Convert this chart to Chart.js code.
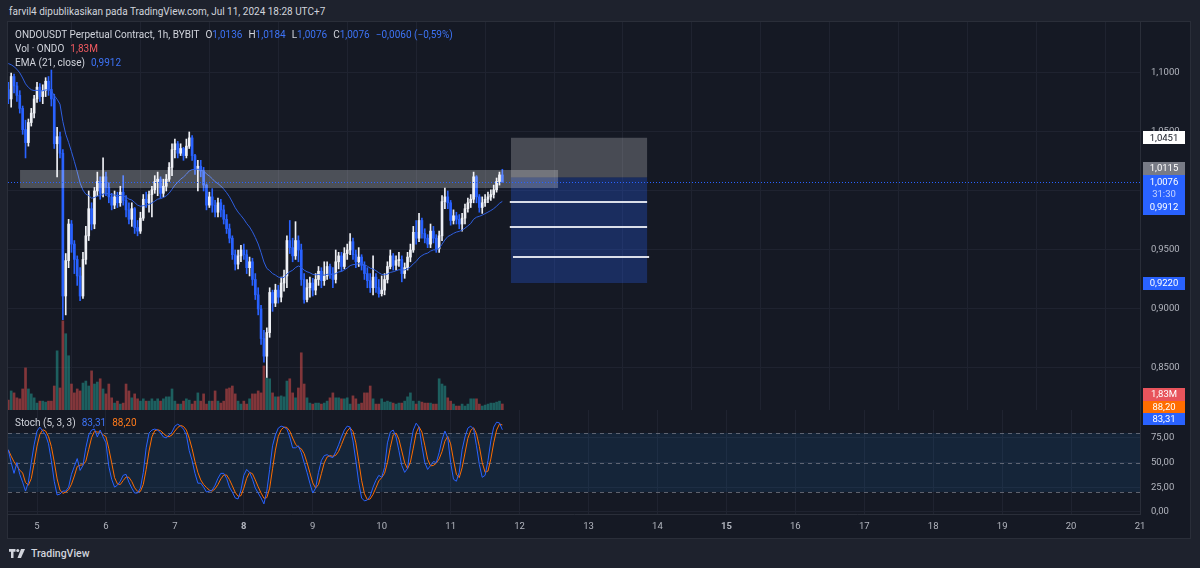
<!DOCTYPE html>
<html lang="id">
<head>
<meta charset="UTF-8">
<title>ONDOUSDT Perpetual Contract, 1h, BYBIT</title>
<script src="https://cdn.jsdelivr.net/npm/chart.js"></script>
<style>
  html, body { margin: 0; padding: 0; }
  body { width: 1200px; height: 568px; background: #1e222d; position: relative; overflow: hidden;
         font-family: Roboto, "Noto Sans", sans-serif; color: #d1d4dc; }
  .byline { position: absolute; left: 9px; top: 6px; font-size: 10px; line-height: 12px; }
  .frame { position: absolute; left: 7px; top: 21px; width: 1182px; height: 516px;
           border: 1px solid #2a2e39; background: #151924; }
  .box { position: absolute; left: 8px; width: 1182px; }
  #mainBox { top: 22px; height: 388px; }
  #stochBox { top: 395px; height: 143px; }
  .legend { position: absolute; left: 15px; font-size: 10px; line-height: 12px; white-space: nowrap; }
  .legend span { margin-right: 6px; }
  .blue { color: #3d73f5; }
  .red { color: #f05a60; }
  .orange { color: #ff7a1a; }
  .footer { position: absolute; left: 9px; top: 547px; display: flex; align-items: center; font-size: 10.5px; font-weight: 500; color: #d1d4dc; }
  .footer svg { margin-right: 3px; }
</style>
</head>
<body>
  <div class="byline">farvil4 dipublikasikan pada TradingView.com, Jul 11, 2024 18:28 UTC+7</div>
  <div class="frame"></div>
  <div class="box" id="mainBox"><canvas id="mainChart" width="1182" height="388"></canvas></div>
  <div class="box" id="stochBox"><canvas id="stochChart" width="1182" height="143"></canvas></div>

  <div class="legend" id="lg1" style="top:29px"></div>
  <div class="legend" id="lg2" style="top:43px"></div>
  <div class="legend" id="lg3" style="top:57px"></div>
  <div class="legend" id="lg4" style="top:417px"></div>

  <div class="footer">
    <svg width="19" height="9" viewBox="0 0 38 18"><path d="M0 0h13v5.5H9V18H4V5.5H0z" fill="#d1d4dc"/><circle cx="17.5" cy="3" r="3" fill="#d1d4dc"/><path d="M24 0h8l-8 18h-7z" fill="#d1d4dc"/></svg>
    TradingView
  </div>

<script>
// hourly bars, hour 0 = Jul 5 00:00 (UTC+7)
const firstHour = -10;
const firstOpen = 1.086;

const closes = [
  1.078, 1.097, 1.089, 1.081, 1.070, 1.052, 1.041, 1.058, 1.066, 1.078,
  1.088, 1.080, 1.085, 1.093, 1.086, 1.078, 1.040, 1.046, 1.032, 0.911,
  0.941, 0.972, 0.955, 0.942, 0.928, 0.911, 0.942, 0.962, 0.985, 0.972,
  1.000, 1.008, 0.998, 1.012, 1.003, 0.995, 0.988, 0.995, 0.990, 0.999,
  0.992, 0.984, 0.976, 0.985, 0.969, 0.966, 0.977, 0.993, 0.990, 0.997,
  1.001, 1.008, 1.010, 0.998, 1.004, 1.010, 1.020, 1.035, 1.040, 1.032,
  1.036, 1.030, 1.038, 1.045, 1.030, 1.018, 1.021, 1.017, 1.005, 0.988,
  0.995, 0.988, 0.982, 0.990, 0.984, 0.976, 0.968, 0.960, 0.946, 0.938,
  0.945, 0.950, 0.946, 0.935, 0.940, 0.925, 0.912, 0.900, 0.875, 0.860,
  0.880, 0.914, 0.905, 0.916, 0.910, 0.922, 0.928, 0.958, 0.952, 0.945,
  0.958, 0.950, 0.925, 0.908, 0.918, 0.922, 0.916, 0.925, 0.932, 0.924,
  0.928, 0.936, 0.930, 0.925, 0.940, 0.945, 0.936, 0.947, 0.950, 0.957,
  0.946, 0.940, 0.944, 0.937, 0.930, 0.924, 0.918, 0.927, 0.918, 0.913,
  0.916, 0.925, 0.936, 0.945, 0.937, 0.941, 0.942, 0.930, 0.935, 0.944,
  0.950, 0.965, 0.960, 0.975, 0.964, 0.960, 0.955, 0.966, 0.960, 0.951,
  0.962, 0.991, 0.995, 0.990, 0.975, 0.979, 0.976, 0.972, 0.977, 0.985,
  0.990, 0.993, 1.012, 0.995, 0.986, 0.990, 0.993, 0.995, 0.997, 1.001,
  1.008, 1.0136, 1.0076
];

const highs = [
  1.092, 1.100, 1.099, 1.092, 1.085, 1.072, 1.060, 1.061, 1.070, 1.081,
  1.092, 1.091, 1.090, 1.096, 1.097, 1.1025, 1.082, 1.054, 1.050, 1.035,
  0.947, 0.976, 0.975, 0.958, 0.945, 0.935, 0.948, 0.970, 1.000, 0.990,
  1.003, 1.016, 1.012, 1.028, 1.016, 1.007, 0.998, 1.000, 0.999, 1.004,
  1.013, 0.996, 0.990, 0.990, 0.986, 0.975, 0.982, 0.997, 0.999, 1.000,
  1.004, 1.013, 1.016, 1.012, 1.010, 1.014, 1.024, 1.040, 1.044, 1.042,
  1.040, 1.037, 1.044, 1.050, 1.047, 1.031, 1.026, 1.026, 1.020, 1.006,
  0.999, 1.002, 0.992, 0.994, 0.993, 0.988, 0.980, 0.972, 0.962, 0.950,
  0.950, 0.954, 0.955, 0.950, 0.944, 0.943, 0.930, 0.918, 0.903, 0.882,
  0.884, 0.918, 0.916, 0.921, 0.920, 0.927, 0.933, 0.962, 0.975, 0.960,
  0.974, 0.962, 0.955, 0.930, 0.925, 0.927, 0.926, 0.930, 0.936, 0.935,
  0.940, 0.940, 0.938, 0.935, 0.950, 0.948, 0.948, 0.952, 0.955, 0.964,
  0.960, 0.950, 0.952, 0.946, 0.940, 0.935, 0.930, 0.945, 0.930, 0.925,
  0.928, 0.930, 0.940, 0.950, 0.947, 0.945, 0.948, 0.945, 0.939, 0.948,
  0.955, 0.970, 0.975, 0.981, 0.977, 0.968, 0.963, 0.972, 0.970, 0.963,
  0.966, 0.996, 1.0025, 1.000, 0.992, 0.984, 0.982, 0.980, 0.981, 0.989,
  0.994, 0.997, 1.016, 1.013, 0.997, 0.995, 0.997, 0.999, 1.001, 1.005,
  1.011, 1.016, 1.0184
];

const lows = [
  1.074, 1.071, 1.083, 1.076, 1.066, 1.048, 1.028, 1.038, 1.055, 1.062,
  1.075, 1.076, 1.074, 1.080, 1.081, 1.072, 1.036, 1.012, 1.028, 0.891,
  0.895, 0.935, 0.948, 0.930, 0.920, 0.907, 0.909, 0.938, 0.958, 0.967,
  0.968, 0.996, 0.993, 0.995, 0.996, 0.990, 0.984, 0.985, 0.986, 0.987,
  0.988, 0.978, 0.972, 0.970, 0.964, 0.962, 0.964, 0.975, 0.986, 0.982,
  0.978, 0.998, 0.996, 0.994, 0.995, 1.000, 1.008, 1.013, 1.028, 1.028,
  1.030, 1.026, 1.028, 1.036, 1.026, 1.014, 1.000, 1.012, 1.000, 0.984,
  0.986, 0.982, 0.978, 0.978, 0.978, 0.972, 0.964, 0.956, 0.942, 0.933,
  0.934, 0.940, 0.942, 0.930, 0.928, 0.920, 0.908, 0.895, 0.870, 0.855,
  0.842, 0.876, 0.898, 0.902, 0.905, 0.906, 0.915, 0.918, 0.947, 0.940,
  0.942, 0.940, 0.920, 0.905, 0.906, 0.910, 0.911, 0.912, 0.920, 0.918,
  0.920, 0.925, 0.926, 0.918, 0.922, 0.934, 0.932, 0.934, 0.942, 0.946,
  0.942, 0.935, 0.936, 0.933, 0.925, 0.918, 0.914, 0.912, 0.914, 0.910,
  0.911, 0.912, 0.922, 0.934, 0.933, 0.933, 0.936, 0.923, 0.926, 0.933,
  0.940, 0.948, 0.955, 0.957, 0.960, 0.956, 0.952, 0.952, 0.956, 0.948,
  0.948, 0.958, 0.985, 0.985, 0.971, 0.972, 0.972, 0.968, 0.966, 0.972,
  0.982, 0.986, 0.990, 0.990, 0.982, 0.981, 0.987, 0.990, 0.992, 0.994,
  0.999, 1.005, 1.0076
];

// volume, millions of ONDO
const volumes = [
  3.0, 5.8, 5.2, 3.7, 3.4, 6.4, 12.8, 6.4, 4.9, 3.7,
  2.1, 2.7, 2.7, 2.4, 2.7, 2.7, 7.3, 18.0, 6.7, 27.1,
  23.2, 16.5, 7.9, 5.2, 6.4, 5.8, 8.2, 8.8, 7.3, 11.9,
  7.9, 8.5, 9.5, 6.4, 4.9, 7.9, 3.7, 2.1, 2.7, 1.8,
  2.1, 7.9, 5.8, 3.7, 4.9, 3.4, 2.7, 3.4, 2.7, 2.7,
  3.4, 2.7, 3.4, 2.7, 3.4, 4.0, 4.0, 6.4, 2.7, 1.8,
  1.8, 2.7, 3.4, 3.0, 1.8, 2.7, 5.2, 2.7, 4.9, 1.8,
  2.7, 2.7, 5.8, 2.7, 2.1, 2.7, 6.4, 6.7, 7.3, 4.9,
  2.7, 1.8, 2.7, 1.8, 3.4, 4.9, 4.9, 5.8, 5.2, 13.4,
  9.8, 9.5, 5.2, 4.0, 4.0, 4.3, 4.0, 8.8, 9.5, 5.2,
  3.7, 6.7, 17.4, 7.9, 3.7, 2.1, 1.8, 2.1, 2.1, 1.8,
  2.1, 2.7, 3.7, 5.2, 3.7, 3.7, 3.4, 3.4, 3.7, 1.8,
  4.3, 3.4, 1.8, 2.1, 5.2, 5.2, 7.3, 3.4, 1.8, 1.8,
  3.4, 2.4, 2.7, 2.4, 2.1, 1.8, 2.1, 2.1, 2.7, 4.0,
  5.2, 2.7, 1.8, 2.7, 2.4, 2.1, 2.1, 2.1, 1.8, 1.8,
  9.5, 7.9, 7.3, 3.7, 2.7, 1.8, 1.2, 1.2, 1.8, 1.2,
  1.8, 3.4, 3.4, 3.4, 1.8, 1.2, 1.5, 1.8, 2.1, 2.1,
  2.4, 2.7, 1.83
];

// Stoch (5, 3, 3) %K
const stochK = [
  63, 50, 39, 50, 38, 30, 21, 30, 50, 68,
  82, 86, 82, 78, 69, 52, 31, 17, 18, 21,
  21, 25, 38, 46, 54, 42, 47, 65, 78, 83,
  84, 76, 83, 76, 70, 46, 33, 25, 27, 31,
  37, 38, 30, 24, 19, 19, 24, 40, 65, 80,
  83, 84, 83, 80, 76, 75, 78, 81, 87, 89,
  87, 84, 78, 62, 52, 39, 29, 29, 25, 20,
  21, 22, 27, 34, 39, 39, 34, 25, 20, 14,
  13, 22, 37, 43, 40, 33, 24, 19, 14, 8,
  21, 43, 67, 78, 85, 87, 86, 84, 76, 65,
  65, 67, 60, 50, 40, 29, 19, 24, 40, 52,
  57, 58, 56, 55, 61, 68, 76, 83, 87, 86,
  72, 52, 30, 14, 11, 12, 16, 25, 32, 37,
  35, 45, 70, 81, 83, 76, 62, 47, 40, 44,
  67, 83, 90, 86, 67, 50, 43, 47, 51, 50,
  60, 73, 82, 75, 50, 33, 31, 40, 63, 76,
  85, 87, 84, 67, 48, 35, 37, 52, 72, 86,
  91, 90.3, 83.31
];

const emaSeed = 1.108;       // EMA(21) value at the first visible bar
const emaLength = 21;
const dayLabels = [5, 6, 7, 8, 9, 10, 11, 12, 13, 14, 15, 16, 17, 18, 19, 20, 21];
const boldDays = [8, 15];
const priceTicks = [0.85, 0.90, 0.95, 1.00, 1.05, 1.10];
const stochTicks = [0, 25, 50, 75];
const stochLevels = [80, 50, 20];

// drawings: [fromHour, toHour, lowPrice, highPrice]
const zone = [-5.9, 181.4, 1.0025, 1.0178];
// long position tool: [fromHour, toHour, target, entry, stop]
const position = [165.0, 212.4, 1.0451, 1.0115, 0.9220];
// horizontal lines inside the box: [fromHour, toHour, price]
const levelLines = [[164.6, 212.4, 0.9907], [164.6, 212.4, 0.9695], [165.7, 213.1, 0.9437]];
const countdown = '31:30';

// ---- derived
const hours = closes.map((_, i) => firstHour + i);
const opens = closes.map((c, i) => i === 0 ? firstOpen : closes[i - 1]);
const isUp = closes.map((c, i) => c >= opens[i]);
const ema = [];
closes.forEach((c, i) => ema.push(i === 0 ? emaSeed : ema[i - 1] + (c - ema[i - 1]) * 2 / (emaLength + 1)));
const stochD = stochK.map((_, i) => {
  const s = stochK.slice(Math.max(0, i - 2), i + 1);
  return s.reduce((a, b) => a + b, 0) / s.length;
});
const last = closes.length - 1;

const FONT = 'Roboto, "Noto Sans", sans-serif';
const UP = '#eef0f5', DOWN = '#2962ff';
const VOL_UP = 'rgba(38,166,154,0.5)', VOL_DOWN = 'rgba(239,83,80,0.5)';
const GRID = '#1f2330', SEP = '#2a2e39', TXT = '#b2b5be';
const xMin = -10.1, xMax = 384;

function fmt(v, d) { return v.toFixed(d).replace('.', ',').replace('-', '\u2212'); }

// ---- legends
const chg = closes[last] - closes[last - 1];
const val = v => '<b class="blue" style="font-weight:normal">' + fmt(v, 4) + '</b>';
document.getElementById('lg1').innerHTML =
  '<span>ONDOUSDT Perpetual Contract, 1h, BYBIT</span>' +
  '<span>O' + val(opens[last]) + '</span>' +
  '<span>H' + val(highs[last]) + '</span>' +
  '<span>L' + val(lows[last]) + '</span>' +
  '<span>C' + val(closes[last]) + '</span>' +
  '<span class="blue">' + fmt(chg, 4) + ' (' + fmt(chg / closes[last - 1] * 100, 2) + '%)</span>';
document.getElementById('lg2').innerHTML =
  '<span>Vol \u00b7 ONDO</span><span class="red">' + fmt(volumes[last], 2) + 'M</span>';
document.getElementById('lg3').innerHTML =
  '<span>EMA (21, close)</span><span class="blue">' + fmt(ema[last], 4) + '</span>';
document.getElementById('lg4').innerHTML =
  '<span>Stoch (5, 3, 3)</span><span class="blue">' + fmt(stochK[last], 2) + '</span>' +
  '<span class="orange">' + fmt(stochD[last], 2) + '</span>';

Chart.defaults.font.family = FONT;

function tag(ctx, left, yc, h, bg, fg, text) {
  ctx.fillStyle = bg;
  ctx.fillRect(left, Math.round(yc - h / 2), 42, h);
  ctx.fillStyle = fg;
  ctx.font = '9.5px ' + FONT;
  ctx.textAlign = 'center';
  ctx.textBaseline = 'middle';
  ctx.fillText(text, left + 21, yc + 0.5);
}

// y axes: fixed width, no extra room reserved for edge labels
function fitRight(s) { s.width = 50; s.paddingTop = 0; s.paddingBottom = 0; }

const mainDraw = {
  id: 'mainDraw',
  afterDatasetsDraw(chart) {
    const { ctx, chartArea: a, scales: { x, y } } = chart;
    ctx.save();
    ctx.beginPath(); ctx.rect(a.left, a.top, a.width, a.height); ctx.clip();

    const p0 = x.getPixelForValue(position[0]), p1 = x.getPixelForValue(position[1]);
    const yT = y.getPixelForValue(position[2]), yE = y.getPixelForValue(position[3]), yS = y.getPixelForValue(position[4]);
    ctx.fillStyle = 'rgba(255,255,255,0.22)';
    ctx.fillRect(p0, yT, p1 - p0, yE - yT);
    ctx.fillStyle = 'rgba(41,98,255,0.27)';
    ctx.fillRect(p0, yE, p1 - p0, yS - yE);

    ctx.strokeStyle = 'rgba(235,238,245,0.92)';
    ctx.lineWidth = 2;
    levelLines.forEach(([h0, h1, p]) => {
      const yy = Math.round(y.getPixelForValue(p));
      ctx.beginPath(); ctx.moveTo(x.getPixelForValue(h0), yy); ctx.lineTo(x.getPixelForValue(h1), yy); ctx.stroke();
    });

    const z0 = x.getPixelForValue(zone[0]), z1 = x.getPixelForValue(zone[1]);
    const zt = y.getPixelForValue(zone[3]), zb = y.getPixelForValue(zone[2]);
    ctx.fillStyle = 'rgba(255,255,255,0.24)';
    ctx.fillRect(z0, zt, z1 - z0, zb - zt);

    const yl = Math.round(y.getPixelForValue(closes[last])) + 0.5;
    ctx.setLineDash([1, 2]);
    ctx.strokeStyle = DOWN;
    ctx.lineWidth = 1;
    ctx.beginPath(); ctx.moveTo(a.left, yl); ctx.lineTo(a.right, yl); ctx.stroke();
    ctx.restore();
  },
  afterDraw(chart) {
    const { ctx, chartArea: a, scales: { y, vol } } = chart;
    const left = a.right + 3;
    ctx.save();
    tag(ctx, left, y.getPixelForValue(position[2]), 13, '#ffffff', '#131722', fmt(position[2], 4));
    const boxTop = Math.round(y.getPixelForValue(closes[last])) - 7;
    tag(ctx, left, boxTop - 6.5, 13, '#787b86', '#ffffff', fmt(position[3], 4));
    ctx.fillStyle = DOWN;
    ctx.fillRect(left, boxTop, 42, 40);
    ctx.fillStyle = '#ffffff';
    ctx.fillText(fmt(closes[last], 4), left + 21, boxTop + 7.5);
    ctx.fillStyle = 'rgba(255,255,255,0.72)';
    ctx.fillText(countdown, left + 21, boxTop + 20);
    ctx.fillStyle = '#ffffff';
    ctx.fillText(fmt(ema[last], 4), left + 21, boxTop + 32.5);
    tag(ctx, left, y.getPixelForValue(position[4]), 13, DOWN, '#ffffff', fmt(position[4], 4));
    const yv = Math.min(vol.getPixelForValue(volumes[last]), a.bottom - 16);
    tag(ctx, left, yv, 13, '#e8545c', '#ffffff', fmt(volumes[last], 2) + 'M');
    ctx.restore();
  }
};

const dayTicks = dayLabels.map(d => ({ value: (d - 5) * 24 }));

new Chart(document.getElementById('mainChart'), {
  data: {
    datasets: [
      { type: 'line', label: 'EMA', data: hours.map((h, i) => ({ x: h, y: ema[i] })),
        borderColor: '#2f5fe0', borderWidth: 1, pointRadius: 0, tension: 0, order: 0 },
      { type: 'bar', label: 'body', data: hours.map((h, i) => ({ x: h, y: [opens[i], closes[i]] })),
        backgroundColor: isUp.map(u => u ? UP : DOWN), barThickness: 2, minBarLength: 1, grouped: false, order: 1 },
      { type: 'bar', label: 'wick', data: hours.map((h, i) => ({ x: h, y: [lows[i], highs[i]] })),
        backgroundColor: isUp.map(u => u ? UP : DOWN), barThickness: 1, grouped: false, order: 2 },
      { type: 'bar', label: 'Vol', yAxisID: 'vol', data: hours.map((h, i) => ({ x: h, y: volumes[i] })),
        backgroundColor: isUp.map(u => u ? VOL_UP : VOL_DOWN), barThickness: 2, grouped: false, order: 3 }
    ]
  },
  options: {
    responsive: false, animation: false,
    layout: { padding: 0 },
    plugins: { legend: { display: false }, tooltip: { enabled: false } },
    scales: {
      x: { type: 'linear', min: xMin, max: xMax, offset: false,
           afterBuildTicks: s => { s.ticks = dayTicks.map(t => ({ ...t })); },
           afterFit: s => { s.height = 0; s.paddingLeft = 0; s.paddingRight = 0; },
           ticks: { display: false },
           grid: { color: GRID, drawTicks: false },
           border: { display: true, color: SEP } },
      y: { position: 'right', min: 0.8144, max: 1.1432,
           afterBuildTicks: s => { s.ticks = priceTicks.map(v => ({ value: v })); },
           afterFit: fitRight,
           ticks: { color: TXT, font: { size: 9.5 }, padding: 11, callback: v => fmt(v, 4) },
           grid: { color: GRID, drawTicks: false },
           border: { display: true, color: SEP } },
      vol: { position: 'left', display: false, min: 0, max: 118 }
    }
  },
  plugins: [mainDraw]
});

const stochDraw = {
  id: 'stochDraw',
  beforeDatasetsDraw(chart) {
    const { ctx, chartArea: a, scales: { y } } = chart;
    ctx.save();
    const yHi = y.getPixelForValue(stochLevels[0]), yLo = y.getPixelForValue(stochLevels[2]);
    ctx.fillStyle = 'rgba(33,150,243,0.1)';
    ctx.fillRect(a.left, yHi, a.width, yLo - yHi);
    ctx.setLineDash([4, 4]);
    ctx.strokeStyle = 'rgba(120,123,134,0.75)';
    ctx.lineWidth = 1;
    stochLevels.forEach(v => {
      const yy = Math.round(y.getPixelForValue(v)) + 0.5;
      ctx.beginPath(); ctx.moveTo(a.left, yy); ctx.lineTo(a.right, yy); ctx.stroke();
    });
    ctx.restore();
  },
  afterDraw(chart) {
    const { ctx, chartArea: a, scales: { y } } = chart;
    ctx.save();
    const yk = y.getPixelForValue(stochK[last]) - 11;
    tag(ctx, a.right + 3, yk, 12, DOWN, '#ffffff', fmt(stochK[last], 2));
    tag(ctx, a.right + 3, yk - 12, 12, '#ff6d00', '#ffffff', fmt(stochD[last], 2));
    ctx.restore();
  }
};

new Chart(document.getElementById('stochChart'), {
  type: 'line',
  data: {
    datasets: [
      { label: '%K', data: hours.map((h, i) => ({ x: h, y: stochK[i] })),
        borderColor: '#2962ff', borderWidth: 1, pointRadius: 0, tension: 0 },
      { label: '%D', data: hours.map((h, i) => ({ x: h, y: stochD[i] })),
        borderColor: '#ff6d00', borderWidth: 1, pointRadius: 0, tension: 0 }
    ]
  },
  options: {
    responsive: false, animation: false,
    layout: { padding: { top: 15 } },
    plugins: { legend: { display: false }, tooltip: { enabled: false } },
    scales: {
      x: { type: 'linear', min: xMin, max: xMax, offset: false,
           afterBuildTicks: s => { s.ticks = dayTicks.map(t => ({ ...t })); },
           afterFit: s => { s.height = 24; s.paddingLeft = 0; s.paddingRight = 0; },
           ticks: { color: TXT, padding: 7, maxRotation: 0, autoSkip: false,
                    font: c => ({ size: 9.5, weight: c.tick && boldDays.includes(c.tick.value / 24 + 5) ? 'bold' : 'normal' }),
                    callback: v => String(v / 24 + 5) },
           grid: { color: GRID, drawTicks: false },
           border: { display: true, color: SEP } },
      y: { position: 'right', min: -2.3, max: 103.4,
           afterBuildTicks: s => { s.ticks = stochTicks.map(v => ({ value: v })); },
           afterFit: fitRight,
           ticks: { color: TXT, font: { size: 9.5 }, padding: 11, callback: v => fmt(v, 2) },
           grid: { color: GRID, drawTicks: false },
           border: { display: true, color: SEP } }
    }
  },
  plugins: [stochDraw]
});
</script>
</body>
</html>
